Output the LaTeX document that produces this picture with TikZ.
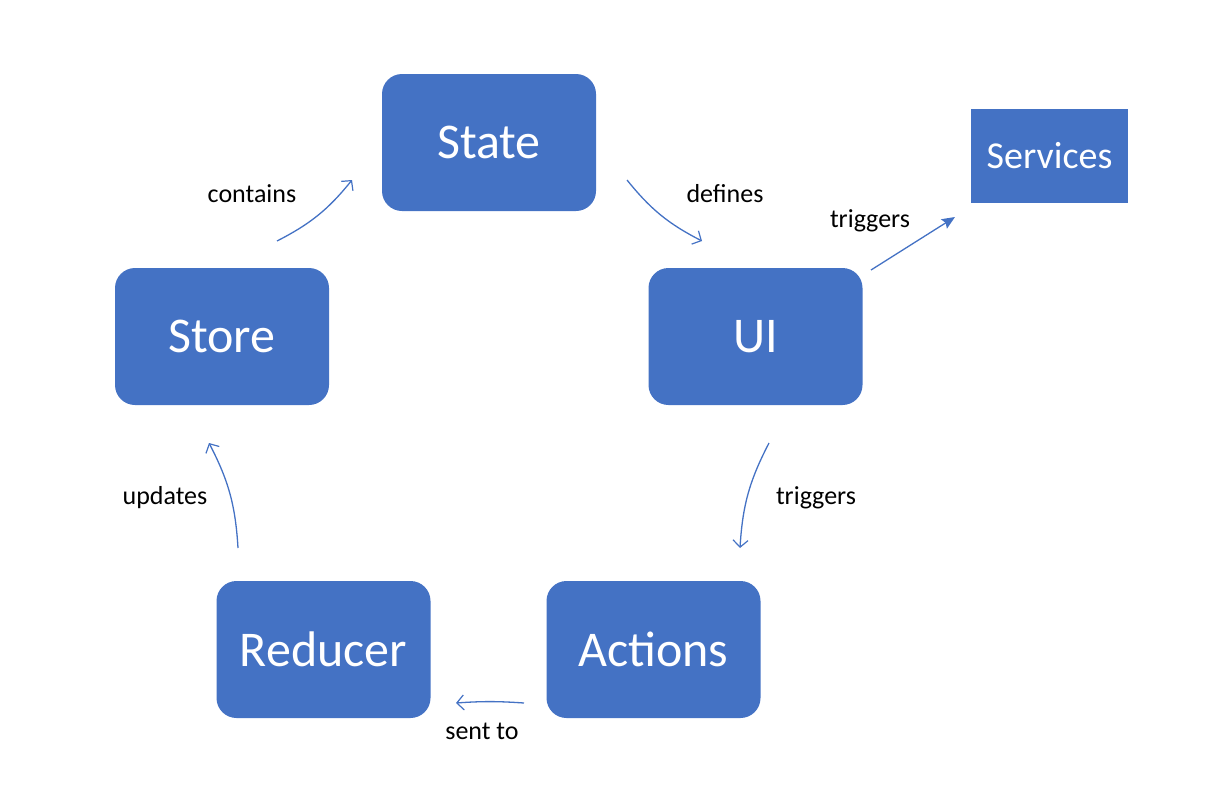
\documentclass[tikz,border=0pt]{standalone}
\usepackage{fontspec}
\setmainfont{Carlito}
\usetikzlibrary{arrows.meta}
\definecolor{boxblue}{HTML}{4472C4}
\tikzset{
  rbox/.style={fill=boxblue, draw=none, rounded corners=20pt, minimum width=214pt, minimum height=137pt, text=white, font=\fontsize{50pt}{50pt}\selectfont, inner sep=0pt},
  sbox/.style={fill=boxblue, draw=none, minimum width=157pt, minimum height=94pt, text=white, font=\fontsize{38pt}{38pt}\selectfont, inner sep=0pt},
  lbl/.style={text=black, font=\fontsize{26pt}{26pt}\selectfont, inner sep=0pt},
  conn/.style={draw=boxblue, line width=1.3pt, -{Straight Barb[length=7pt,width=15pt,line width=1.2pt]}},
  sconn/.style={draw=boxblue, line width=1.3pt, -{Stealth[length=13pt,width=11pt,inset=2pt]}}
}
\begin{document}
\begin{tikzpicture}[x=1pt,y=-1pt]
\useasboundingbox (0,0) rectangle (1206,809);
\node[rbox] (state) at (489,142.5) {State};
\node[rbox] (ui) at (755.5,336.5) {UI};
\node[rbox] (store) at (222,336.5) {Store};
\node[rbox] (reducer) at (323.5,649.5) {Reducer};
\node[rbox] (actions) at (653.5,649.5) {Actions};
\node[sbox] (services) at (1049.5,156) {Services};

\coordinate (c1a) at (277,241); \coordinate (c1b) at (352,180);
\coordinate (c2a) at (627,180); \coordinate (c2b) at (702,241);
\coordinate (c3a) at (871,270); \coordinate (c3b) at (955,217);
\coordinate (c4a) at (769,443); \coordinate (c4b) at (740,548);
\coordinate (c5a) at (524,703); \coordinate (c5b) at (456,703);
\coordinate (c6a) at (238,548); \coordinate (c6b) at (209,443);

\draw[conn] (c1a) to[bend right=12] (c1b);
\draw[conn] (c2a) to[bend right=12] (c2b);
\draw[sconn] (c3a) -- (c3b);
\draw[conn] (c4a) to[bend right=12] (c4b);
\draw[conn] (c5a) to[bend right=4] (c5b);
\draw[conn] (c6a) to[bend right=12] (c6b);

\node[lbl] (l1) at (252,194) {contains};
\node[lbl] (l2) at (725,194) {defines};
\node[lbl] (l3) at (870,221) {triggers};
\node[lbl] (l4) at (816,498) {triggers};
\node[lbl] (l5) at (482,731) {sent to};
\node[lbl] (l6) at (165,498) {updates};
\end{tikzpicture}
\end{document}
